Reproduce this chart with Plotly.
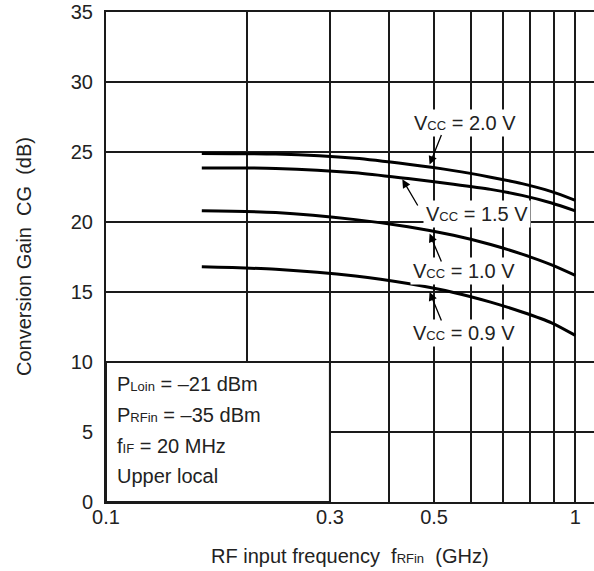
import plotly.graph_objects as go

# ---- data ----
freq_ghz = [0.16, 0.23, 0.34, 0.44, 0.55, 0.66, 0.77, 0.89, 1.0]
cg_vcc20 = [24.90, 24.85, 24.55, 24.12, 23.67, 23.20, 22.74, 22.17, 21.55]
cg_vcc15 = [23.86, 23.83, 23.52, 23.10, 22.70, 22.33, 21.90, 21.36, 20.80]
cg_vcc10 = [20.80, 20.67, 20.17, 19.66, 19.05, 18.39, 17.70, 16.93, 16.18]
cg_vcc09 = [16.80, 16.62, 16.14, 15.60, 14.97, 14.28, 13.57, 12.80, 11.90]

x_grid_vals = [0.1, 0.2, 0.3, 0.4, 0.5, 0.6, 0.7, 0.8, 0.9, 1.0]
x_tick_text = ["0.1", "", "0.3", "", "0.5", "", "", "", "", "1"]
y_tick_vals = [0, 5, 10, 15, 20, 25, 30, 35]

FONT = "Liberation Sans, Arial, sans-serif"
TXT = "#222222"
LINE = "#1a1a1a"

def sub(s):
    return "<span style='font-size:13px'>" + s + "</span>"

fig = go.Figure()
for ys in (cg_vcc20, cg_vcc15, cg_vcc10, cg_vcc09):
    fig.add_trace(go.Scatter(x=freq_ghz, y=ys, mode="lines",
                             line=dict(color="#000000", width=3, shape="spline", smoothing=0.7),
                             showlegend=False, hoverinfo="skip"))

# inset box masking grid in lower-left corner
fig.add_shape(type="rect", xref="x", yref="y", x0=0.1, x1=0.3, y0=0, y1=10,
              fillcolor="white", line=dict(color=LINE, width=2), layer="between")

# curve labels (text) and arrows
labels = [
    ("V" + sub("CC") + " = 2.0 V", -0.2344, 27.05),
    ("V" + sub("CC") + " = 1.5 V", -0.2088, 20.55),
    ("V" + sub("CC") + " = 1.0 V", -0.2365, 16.48),
    ("V" + sub("CC") + " = 0.9 V", -0.2365, 12.05),
]
for t, lx, ly in labels:
    fig.add_annotation(x=lx, y=ly, xref="x", yref="y", text=t, showarrow=False,
                       xanchor="center", yanchor="middle",
                       bgcolor="white", borderpad=2,
                       font=dict(family=FONT, size=20, color=TXT))

arrows = [(-0.3105, 24.10, 12.4, -31), (-0.3686, 23.05, 16.3, 27.7),
          (-0.3105, 19.17, 12.4, 29.4), (-0.3105, 15.00, 12.4, 30)]
for hx, hy, ax, ay in arrows:
    fig.add_annotation(x=hx, y=hy, xref="x", yref="y", text="", showarrow=True,
                       ax=ax, ay=ay, arrowhead=2, arrowsize=1.3, arrowwidth=1.3,
                       arrowcolor="#000000", standoff=0)

# condition text in inset
cond = [("P" + sub("Loin") + " = –21 dBm", 8.41),
        ("P" + sub("RFin") + " = –35 dBm", 6.19),
        ("f" + sub("IF") + " = 20 MHz", 3.98),
        ("Upper local", 1.84)]
for t, ty in cond:
    fig.add_annotation(x=-0.980, y=ty, xref="x", yref="y", text=t, showarrow=False,
                       xanchor="left", yanchor="middle",
                       font=dict(family=FONT, size=20, color=TXT))

# axis titles
fig.add_annotation(x=0.5, y=-0.110, xref="paper", yref="paper", showarrow=False,
                   xanchor="center", yanchor="middle",
                   text="RF input frequency\u00a0\u00a0f" + sub("RFin") + "\u00a0\u00a0(GHz)",
                   font=dict(family=FONT, size=20, color=TXT))
fig.add_annotation(x=-0.168, y=0.5, xref="paper", yref="paper", showarrow=False,
                   xanchor="center", yanchor="middle",
                   text="Conversion Gain\u00a0\u00a0CG\u00a0\u00a0(dB)", textangle=-90,
                   font=dict(family=FONT, size=20, color=TXT))

fig.update_xaxes(type="log", range=[-1, 0.0398], tickmode="array",
                 tickvals=x_grid_vals, ticktext=x_tick_text,
                 showgrid=True, gridcolor=LINE, gridwidth=2,
                 showline=True, linecolor=LINE, linewidth=2, mirror=True,
                 ticks="", ticklabelstandoff=-4, zeroline=False,
                 tickfont=dict(family=FONT, size=20, color=TXT))
fig.update_yaxes(range=[0, 35], tickmode="array", tickvals=y_tick_vals,
                 showgrid=True, gridcolor=LINE, gridwidth=2,
                 showline=True, linecolor=LINE, linewidth=2,
                 ticks="", ticklabelstandoff=7, zeroline=False,
                 tickfont=dict(family=FONT, size=20, color=TXT))

fig.update_layout(width=594, height=571, margin=dict(l=106, r=0, t=12, b=69),
                  paper_bgcolor="white", plot_bgcolor="white", showlegend=False)

fig.write_html("out.html", config={"displayModeBar": False, "staticPlot": True},
               post_script="document.body.style.margin='0';document.body.style.overflow='hidden';")
